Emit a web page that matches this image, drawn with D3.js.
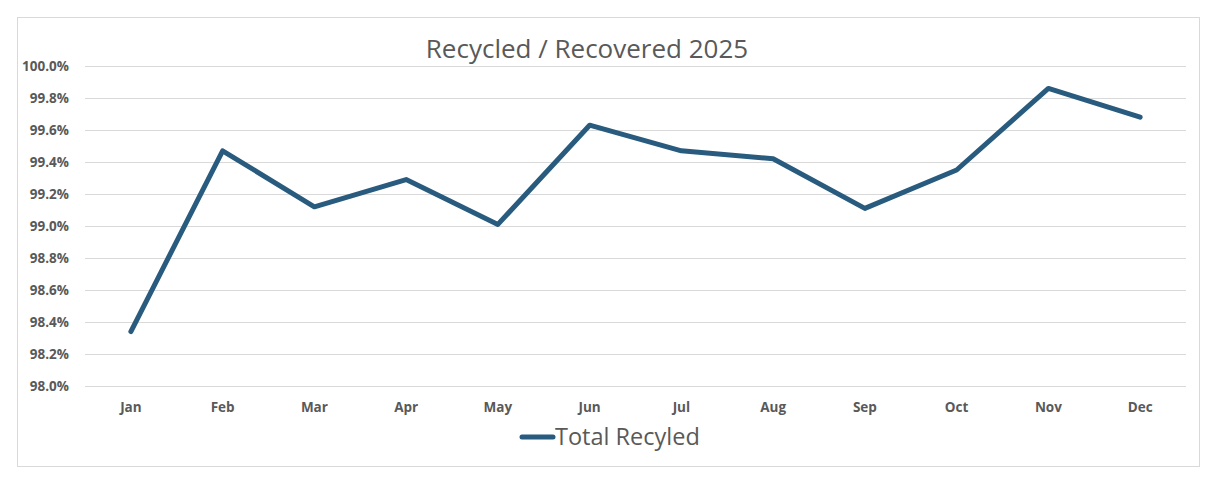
<!DOCTYPE html>
<html>
<head>
<meta charset="utf-8">
<script src="https://cdn.jsdelivr.net/npm/d3@7"></script>
<style>
  body { margin: 0; background: #fff; }
  text { font-family: "Open Sans", "Liberation Sans", sans-serif; }
</style>
</head>
<body>
<div id="chart"></div>
<script>
// chart data
const months = ["Jan", "Feb", "Mar", "Apr", "May", "Jun", "Jul", "Aug", "Sep", "Oct", "Nov", "Dec"];
const totalRecycled = [98.34, 99.47, 99.12, 99.29, 99.01, 99.63, 99.47, 99.42, 99.11, 99.35, 99.86, 99.68];
const yTicks = [98.0, 98.2, 98.4, 98.6, 98.8, 99.0, 99.2, 99.4, 99.6, 99.8, 100.0];

const W = 1220, H = 484;
const margin = { top: 66, right: 34, bottom: 98, left: 85 };
const width = W - margin.left - margin.right,
    height = H - margin.top - margin.bottom;

const svg = d3.select("#chart")
    .append("svg")
    .attr("width", W)
    .attr("height", H);

// outer chart frame
svg.append("rect")
    .attr("x", 17.5).attr("y", 17.5)
    .attr("width", 1182).attr("height", 449)
    .attr("fill", "#fff")
    .attr("stroke", "#d9d9d9");

svg.append("text")
    .attr("x", 587).attr("y", 58)
    .attr("text-anchor", "middle")
    .attr("font-size", 26)
    .attr("fill", "#595959")
    .text("Recycled / Recovered 2025");

const g = svg.append("g")
    .attr("transform", `translate(${margin.left}, ${margin.top})`);

const x = d3.scaleBand()
    .domain(months)
    .range([0, width]);

const y = d3.scaleLinear()
    .domain([98, 100])
    .range([height, 0]);

// gridlines + y labels
const yAxis = g.append("g")
    .call(d3.axisLeft(y)
        .tickValues(yTicks)
        .tickSize(-width)
        .tickPadding(16)
        .tickFormat(d => d.toFixed(1) + "%"));
yAxis.select(".domain").remove();
yAxis.selectAll(".tick line").attr("stroke", "#d9d9d9").attr("stroke-width", 1);
yAxis.selectAll(".tick text")
    .attr("fill", "#595959")
    .attr("font-size", 13.5)
    .attr("font-weight", "bold");

// x labels
const xAxis = g.append("g")
    .attr("transform", `translate(0, ${height})`)
    .call(d3.axisBottom(x).tickSize(0).tickPadding(16));
xAxis.select(".domain").remove();
xAxis.selectAll(".tick text")
    .attr("fill", "#595959")
    .attr("font-size", 13.5)
    .attr("font-weight", "bold");

const line = d3.line()
    .x((d, i) => x(months[i]) + x.bandwidth() / 2)
    .y(d => y(d));

g.append("path")
    .datum(totalRecycled)
    .attr("d", line)
    .attr("fill", "none")
    .attr("stroke", "#285b7e")
    .attr("stroke-width", 5)
    .attr("stroke-linejoin", "round")
    .attr("stroke-linecap", "round");

// legend
const legend = svg.append("g").attr("transform", "translate(522, 437)");
legend.append("line")
    .attr("x1", 0).attr("x2", 31)
    .attr("y1", 0).attr("y2", 0)
    .attr("stroke", "#285b7e")
    .attr("stroke-width", 5)
    .attr("stroke-linecap", "round");
legend.append("text")
    .attr("x", 33).attr("y", 8)
    .attr("font-size", 23.5)
    .attr("fill", "#595959")
    .text("Total Recyled");
</script>
</body>
</html>
